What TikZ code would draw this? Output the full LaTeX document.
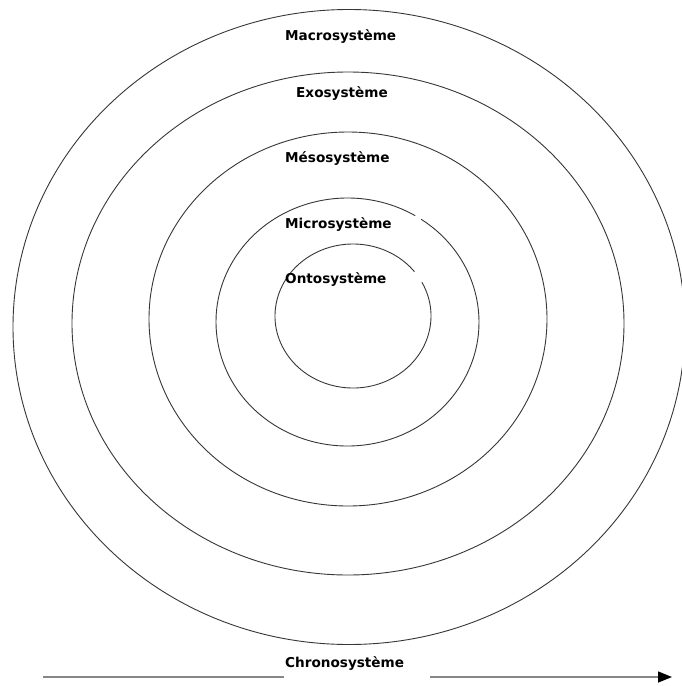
\documentclass[tikz,border=0pt]{standalone}
\usepackage{fontspec}
\setmainfont{DejaVu Sans}
\usepackage{tikz}
\usetikzlibrary{arrows.meta,positioning}
\definecolor{ringGray}{RGB}{55,55,55}
\definecolor{timeGray}{RGB}{135,135,135}

\begin{document}
\begin{tikzpicture}[x=1pt,y=-1pt,
  ring/.style={ringGray, line width=0.9pt},
  ringlabel/.style={font=\fontsize{13.6}{16}\selectfont\bfseries, anchor=west, inner sep=0pt, text=black}]
\useasboundingbox (0,0) rectangle (681,686);
\fill[white] (0,0) rectangle (681,686);

% closed rings
\foreach \cx/\cy/\rx/\ry in {348/319/199/187, 348/323.5/276/251.5, 349/327/336/317.5}
{
    \draw[ring] (\cx,\cy) ellipse [x radius=\rx, y radius=\ry];
}
% rings with a small break
\draw[ring] (347.5,322) ++(-56:131.5 and 124) arc[start angle=-56, end angle=301, x radius=131.5, y radius=124];
\draw[ring] (353,316) ++(-28:78 and 72) arc[start angle=-28, end angle=322, x radius=78, y radius=72];

\node[ringlabel] (macro) at (285,37) {Macrosystème};
\node[ringlabel] (exo) at (296,94) {Exosystème};
\node[ringlabel] (meso) at (285,159) {Mésosystème};
\node[ringlabel] (micro) at (285,225) {Microsystème};
\node[ringlabel] (onto) at (285,280) {Ontosystème};
\node[ringlabel] (chrono) at (285,664) {Chronosystème};

% time axis
\coordinate (tstart) at (43,677);
\coordinate (tmid) at (430,677);
\coordinate (tend) at (672,677);
\draw[timeGray, line width=1.4pt] (tstart) -- ([xshift=-1pt]chrono.west |- tstart);
\draw[timeGray, line width=1.4pt, -{Triangle[length=14pt,width=11pt,color=black,fill=black]}] (tmid) -- (tend);
\end{tikzpicture}
\end{document}
